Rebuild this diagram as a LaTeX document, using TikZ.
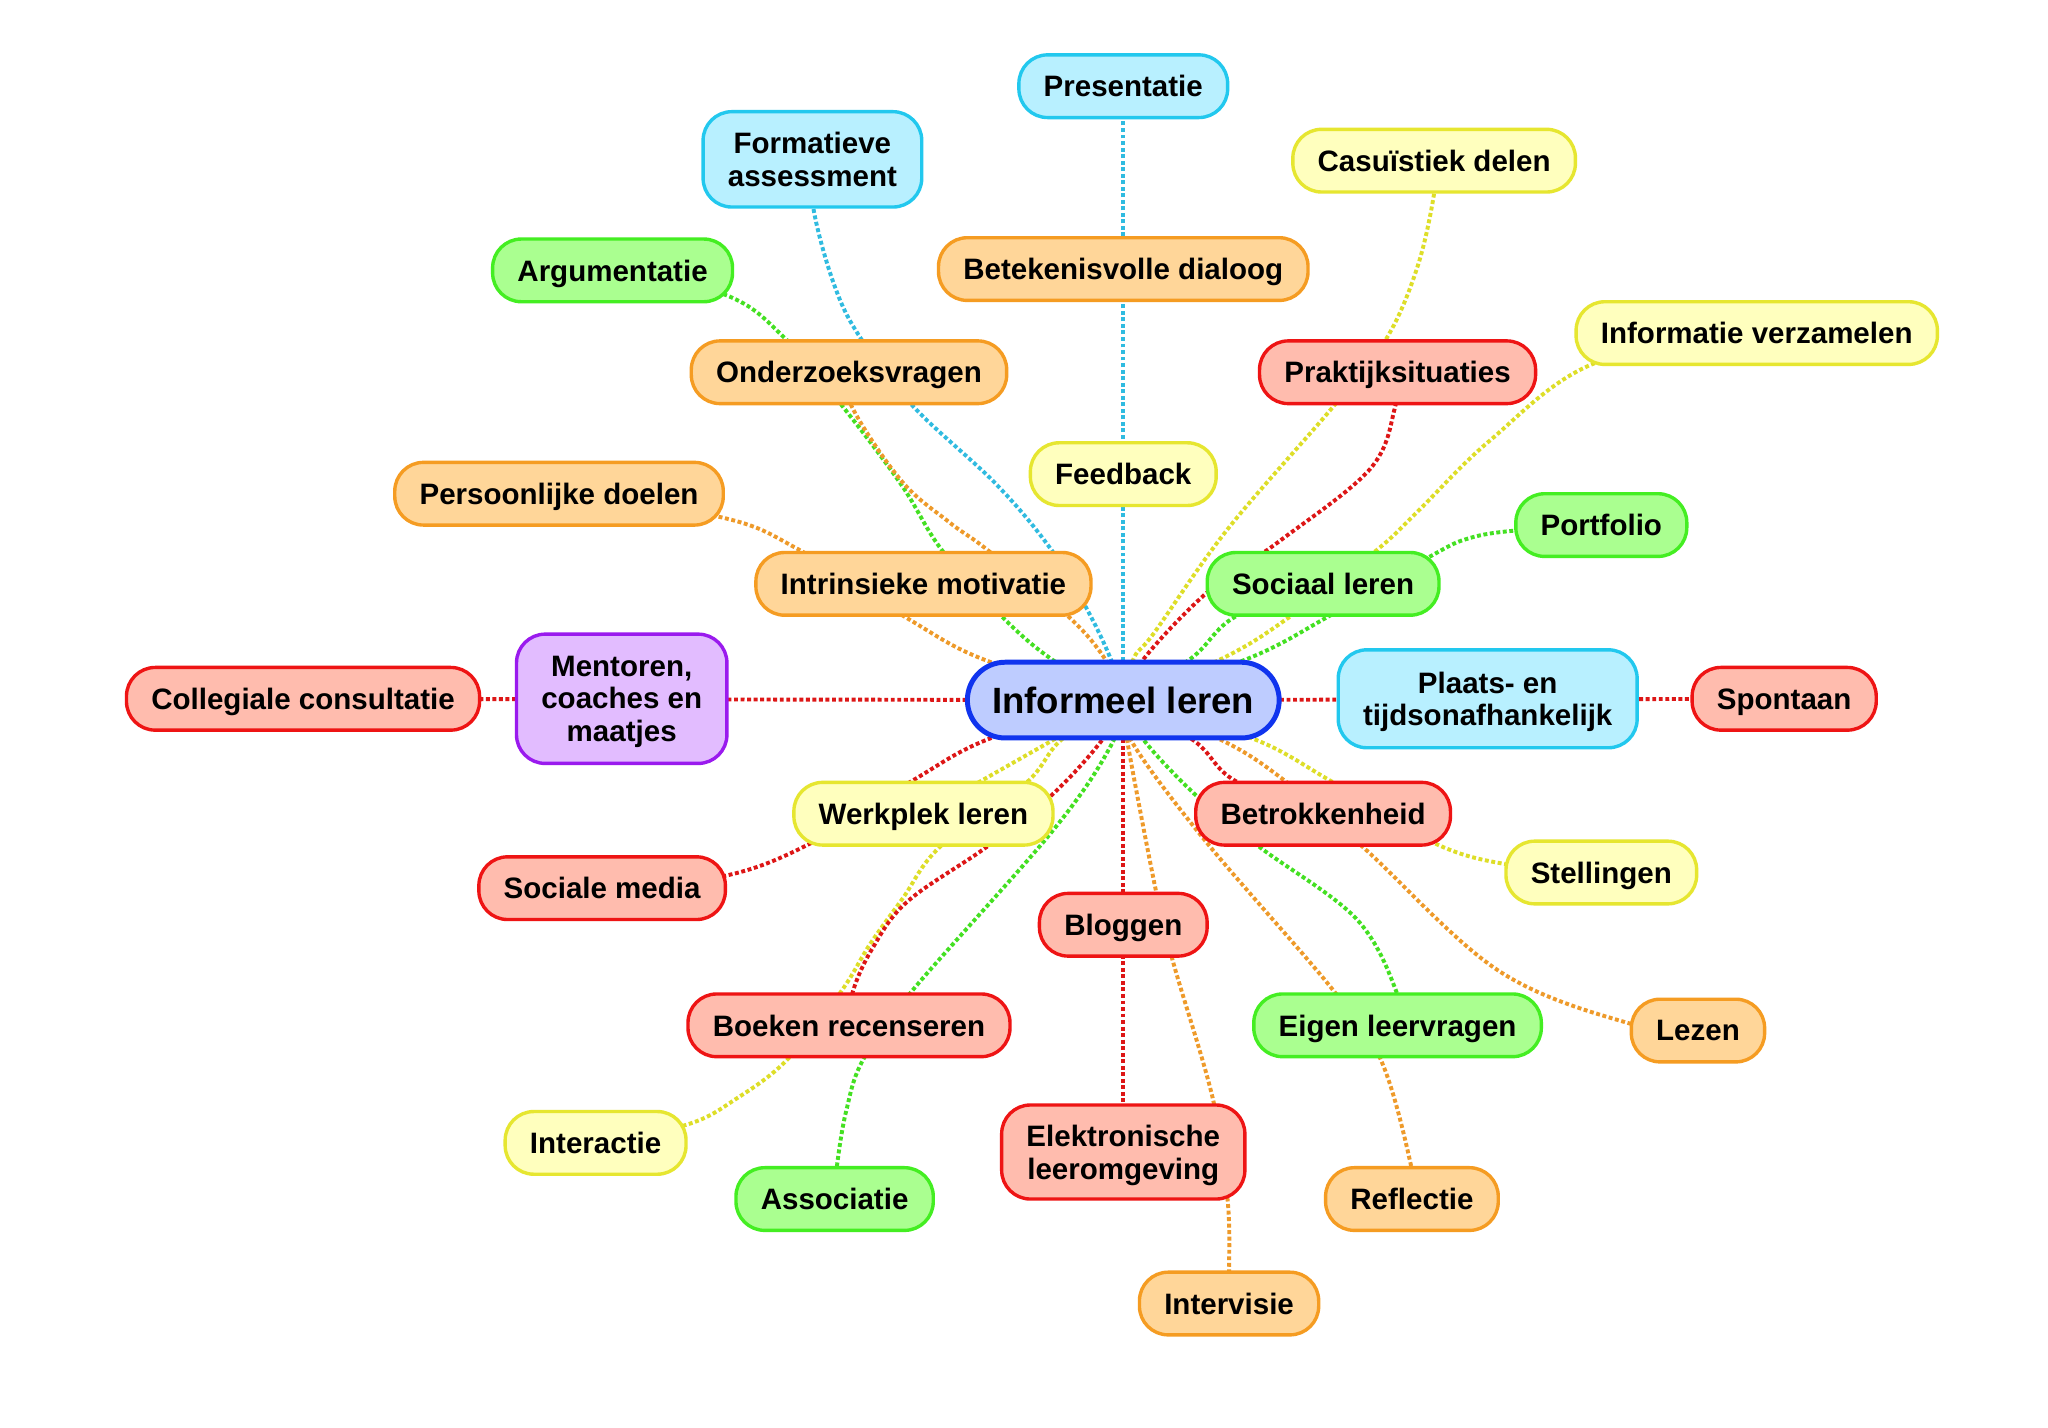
\documentclass[tikz,border=0pt]{standalone}
\usepackage{fontspec}
\setmainfont{Liberation Sans}
\usetikzlibrary{backgrounds}

% box fills and borders
\definecolor{cyanFill}{HTML}{B8F0FF}
\definecolor{cyanLine}{HTML}{22C8EE}
\definecolor{yellowFill}{HTML}{FFFFBE}
\definecolor{yellowLine}{HTML}{E6E630}
\definecolor{greenFill}{HTML}{AAFF90}
\definecolor{greenLine}{HTML}{44EE22}
\definecolor{orangeFill}{HTML}{FFD699}
\definecolor{orangeLine}{HTML}{F59C22}
\definecolor{redFill}{HTML}{FFBCAE}
\definecolor{redLine}{HTML}{EE1414}
\definecolor{purpleFill}{HTML}{E2BCFF}
\definecolor{purpleLine}{HTML}{9A1AEE}
\definecolor{blueFill}{HTML}{BECCFF}
\definecolor{blueLine}{HTML}{1034EE}
% dotted links
\definecolor{cyanDot}{HTML}{30BBE0}
\definecolor{yellowDot}{HTML}{DEDE28}
\definecolor{greenDot}{HTML}{44E022}
\definecolor{orangeDot}{HTML}{EE9A2A}
\definecolor{redDot}{HTML}{DD1616}

\begin{document}
\begin{tikzpicture}[x=0.5pt, y=-0.5pt,
  bx/.style={draw, line width=1.3pt, rounded corners=11pt, inner xsep=9.5pt, inner ysep=3pt,
    minimum height=24pt, text depth=0pt, align=center,
    font=\fontsize{11.3}{12.5}\selectfont\bfseries},
  cyanbox/.style={bx, draw=cyanLine, fill=cyanFill},
  yellowbox/.style={bx, draw=yellowLine, fill=yellowFill},
  greenbox/.style={bx, draw=greenLine, fill=greenFill},
  orangebox/.style={bx, draw=orangeLine, fill=orangeFill},
  redbox/.style={bx, draw=redLine, fill=redFill},
  purplebox/.style={bx, draw=purpleLine, fill=purpleFill},
  centralbox/.style={draw=blueLine, fill=blueFill, line width=1.9pt, rounded corners=14.5pt,
    inner xsep=9.5pt, minimum height=29pt, font=\fontsize{14}{16}\selectfont\bfseries},
  link/.style={line width=1.5pt, dash pattern=on 1.5pt off 1pt},
  cyanlink/.style={link, draw=cyanDot},
  yellowlink/.style={link, draw=yellowDot},
  greenlink/.style={link, draw=greenDot},
  orangelink/.style={link, draw=orangeDot},
  redlink/.style={link, draw=redDot},
  curve/.style={smooth, tension=0.6}
]

\useasboundingbox (0,0) rectangle (1568,1093);

% ----- Central node -----
\node[centralbox] (c) at (860,536) {Informeel leren};

% ----- Upper half -----
\node[cyanbox] (pres) at (860,66) {Presentatie};
\node[cyanbox, minimum height=36.5pt] (form) at (622,122) {Formatieve\\assessment};
\node[yellowbox] (cas) at (1098,123) {Casuïstiek delen};
\node[greenbox] (argu) at (469,207) {Argumentatie};
\node[orangebox] (betek) at (860,206) {Betekenisvolle dialoog};
\node[yellowbox] (info) at (1345,255) {Informatie verzamelen};
\node[orangebox] (onder) at (650,285) {Onderzoeksvragen};
\node[redbox] (prak) at (1070,285) {Praktijksituaties};
\node[yellowbox] (feed) at (860,363) {Feedback};
\node[orangebox] (pers) at (428,378) {Persoonlijke doelen};
\node[greenbox] (port) at (1226,402) {Portfolio};
\node[orangebox] (intr) at (707,447) {Intrinsieke motivatie};
\node[greenbox] (soc) at (1013,447) {Sociaal leren};

% ----- Middle row -----
\node[redbox] (coll) at (232,535) {Collegiale consultatie};
\node[purplebox, minimum height=49.5pt] (ment) at (476,535) {Mentoren,\\coaches en\\maatjes};
\node[cyanbox, minimum height=37.5pt] (plaats) at (1139,535) {Plaats- en\\tijdsonafhankelijk};
\node[redbox] (spon) at (1366,535) {Spontaan};

% ----- Lower half -----
\node[yellowbox] (werk) at (707,623) {Werkplek leren};
\node[redbox] (betr) at (1013,623) {Betrokkenheid};
\node[yellowbox] (stel) at (1226,668) {Stellingen};
\node[redbox] (socm) at (461,680) {Sociale media};
\node[redbox] (blog) at (860,708) {Bloggen};
\node[redbox] (boek) at (650,785) {Boeken recenseren};
\node[greenbox] (eigen) at (1070,785) {Eigen leervragen};
\node[orangebox] (lezen) at (1300,789) {Lezen};
\node[yellowbox] (inter) at (456,875) {Interactie};
\node[greenbox] (assoc) at (639,918) {Associatie};
\node[redbox, minimum height=36pt] (elek) at (860,882) {Elektronische\\leeromgeving};
\node[orangebox] (refl) at (1081,918) {Reflectie};
\node[orangebox] (intv) at (941,998) {Intervisie};

% ----- Links (behind the boxes) -----
\begin{pgfonlayer}{background}
\fill[white] (0,0) rectangle (1568,1093);

% straight ones
\foreach \t/\s in {pres/cyanlink, coll/redlink, spon/redlink, elek/redlink, werk/yellowlink}
  \draw[\s] (c.center) -- (\t.center);

% cyan
\draw[cyanlink] plot[curve] coordinates {(c.center) (851,506) (832,466) (805,421) (763,371)
  (699,311) (659,259) (639,219) (623,161) (form.center)};

% green
\draw[greenlink] plot[curve] coordinates {(c.center) (807,506) (767,472) (721,421) (690,371)
  (645,311) (601,259) (556,226) (argu.center)};
\draw[greenlink] plot[curve] coordinates {(c.center) (912,504) (946,472) (soc.center)};
\draw[greenlink] plot[curve] coordinates {(c.center) (956,504) (1017,472) (1095,426)
  (1125,412) (1162,406) (port.center)};
\draw[greenlink] plot[curve] coordinates {(c.center) (876,567) (920,613) (965,649)
  (1038,703) (1069,759) (eigen.center)};
\draw[greenlink] plot[curve] coordinates {(c.center) (851,570) (806,636) (698,759)
  (661,811) (648,850) (641,891) (assoc.center)};

% yellow
\draw[yellowlink] plot[curve] coordinates {(c.center) (868,504) (884,484) (940,405)
  (1021,311) (1061,260) (1085,205) (1098,148) (cas.center)};
\draw[yellowlink] plot[curve] coordinates {(c.center) (936,504) (985,474) (1053,422)
  (1085,392) (1141,337) (1221,278) (info.center)};
\draw[yellowlink] plot[curve] coordinates {(c.center) (813,566) (785,600) (720,648)
  (691,688) (666,723) (644,759) (603,811) (564,841) (526,861) (inter.center)};
\draw[yellowlink] plot[curve] coordinates {(c.center) (958,565) (1019,598) (1097,645)
  (1155,662) (stel.center)};

% orange
\draw[orangelink] plot[curve] coordinates {(c.center) (847,506) (818,472) (756,421)
  (727,400) (690,368) (652,311) (onder.center)};
\draw[orangelink] plot[curve] coordinates {(c.center) (756,506) (694,473) (612,421)
  (552,396) (pers.center)};
\draw[orangelink] plot[curve] coordinates {(c.center) (866,567) (923,644) (1019,756)
  (1057,811) (1080,891) (refl.center)};
\draw[orangelink] plot[curve] coordinates {(c.center) (936,567) (984,598) (1044,649)
  (1147,743) (1249,784) (lezen.center)};
\draw[orangelink] plot[curve] coordinates {(c.center) (863,567) (885,682) (898,736)
  (929,843) (940,920) (941,975) (intv.center)};

% red
\draw[redlink] plot[curve] coordinates {(c.center) (876,504) (926,452) (980,414)
  (1049,359) (1068,312) (prak.center)};
\draw[redlink] plot[curve] coordinates {(c.center) (914,567) (946,598) (betr.center)};
\draw[redlink] plot[curve] coordinates {(c.center) (759,565) (698,598) (620,646)
  (553,671) (socm.center)};
\draw[redlink] plot[curve] coordinates {(c.center) (845,565) (806,608) (756,648)
  (695,690) (668,726) (653,759) (boek.center)};
\end{pgfonlayer}

\end{tikzpicture}
\end{document}
